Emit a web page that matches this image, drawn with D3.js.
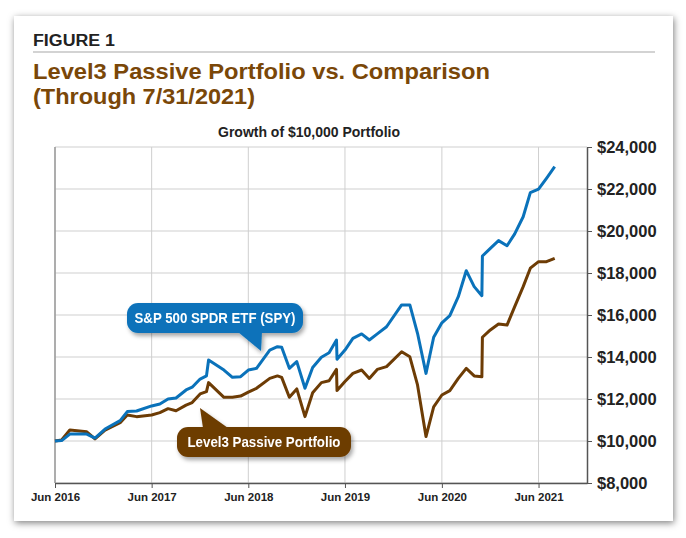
<!DOCTYPE html>
<html lang="en">
<head>
<meta charset="UTF-8">
<title>Figure 1 - Growth of $10,000</title>
<script src="https://d3js.org/d3.v7.min.js"></script>
<style>
    body { margin: 0; background: #fff; }
    svg { display: block; font-family: "Liberation Sans", Arial, sans-serif; }
    .grid line { stroke: #cfcfcf; stroke-width: 1px; }
    .axis text { font-weight: bold; fill: #222; }
    .axis path, .axis line { stroke: #555; }
</style>
</head>
<body>
<svg id="chart" width="686" height="538"></svg>
<script>
    // month points
    const dates = [
        "2016-06-01", "2016-06-26", "2016-07-27", "2016-09-29", "2016-10-30", "2016-12-07",
        "2017-02-02", "2017-03-01", "2017-04-05", "2017-06-01", "2017-07-02", "2017-08-02",
        "2017-09-01", "2017-10-09", "2017-11-01", "2017-12-01", "2017-12-25", "2018-01-02",
        "2018-03-01", "2018-04-02", "2018-05-03", "2018-06-01", "2018-07-02", "2018-08-21",
        "2018-09-19", "2018-10-05", "2018-11-03", "2018-12-01", "2019-01-01", "2019-01-30",
        "2019-03-04", "2019-04-02", "2019-04-30", "2019-05-02", "2019-06-01", "2019-07-01",
        "2019-08-03", "2019-09-01", "2019-10-01", "2019-11-05", "2020-01-01", "2020-02-01",
        "2020-03-01", "2020-04-02", "2020-05-01", "2020-06-01", "2020-07-01", "2020-08-02",
        "2020-09-01", "2020-10-01", "2020-10-30", "2020-11-01", "2020-12-01", "2021-01-01",
        "2021-02-02", "2021-03-03", "2021-04-04", "2021-05-01", "2021-06-01", "2021-07-01",
        "2021-08-01"
    ];

    const spy = [
        10000, 10020, 10330, 10330, 10140, 10570,
        10970, 11400, 11430, 11670, 11760, 12000,
        12050, 12430, 12560, 12950, 13100, 13860,
        13380, 13030, 13060, 13380, 13460, 14330,
        14490, 14460, 13460, 13780, 12510, 13500,
        13990, 14200, 14810, 13890, 14330, 14890,
        15100, 14810, 15100, 15440, 16480, 16480,
        15130, 13220, 14940, 15630, 15970, 16870,
        18110, 17350, 16920, 18810, 19170, 19540,
        19300, 19860, 20680, 21830, 21990, 22510,
        23060
    ];

    const level3 = [
        10000, 10050, 10520, 10440, 10100, 10520,
        10870, 11240, 11160, 11240, 11350, 11540,
        11440, 11710, 11830, 12240, 12350, 12780,
        12080, 12080, 12140, 12330, 12510, 12980,
        13100, 13030, 12080, 12480, 11160, 12300,
        12780, 12870, 13410, 12400, 12830, 13220,
        13380, 12980, 13410, 13540, 14250, 14010,
        12670, 10210, 11630, 12190, 12400, 12980,
        13460, 13100, 13060, 14940, 15290, 15570,
        15520, 16400, 17350, 18230, 18540, 18540,
        18700
    ];

    const yTicks = [8000, 10000, 12000, 14000, 16000, 18000, 20000, 22000, 24000];
    const xTicks = ["2016-06-01", "2017-06-01", "2018-06-01", "2019-06-01", "2020-06-01", "2021-06-01"];

    const blue = "#0a72ba";
    const brown = "#6d3c05";

    const parseDate = d3.timeParse("%Y-%m-%d");
    const svg = d3.select("#chart");

    // shadows
    const defs = svg.append("defs");
    defs.append("filter").attr("id", "cardShadow")
        .attr("x", "-5%").attr("y", "-5%").attr("width", "110%").attr("height", "110%")
        .append("feDropShadow")
        .attr("dx", 1).attr("dy", 2).attr("stdDeviation", 3.5)
        .attr("flood-color", "#000").attr("flood-opacity", 0.5);
    defs.append("filter").attr("id", "tagShadow")
        .attr("x", "-10%").attr("y", "-30%").attr("width", "125%").attr("height", "170%")
        .append("feDropShadow")
        .attr("dx", 2).attr("dy", 3).attr("stdDeviation", 2)
        .attr("flood-color", "#000").attr("flood-opacity", 0.35);

    // card
    svg.append("rect")
        .attr("x", 14).attr("y", 16).attr("width", 659).attr("height", 505)
        .attr("fill", "#fff")
        .attr("filter", "url(#cardShadow)");

    // header
    svg.append("text")
        .attr("x", 33).attr("y", 46)
        .attr("font-size", 16).attr("font-weight", "bold").attr("fill", "#222")
        .attr("textLength", 82).attr("lengthAdjust", "spacingAndGlyphs")
        .text("FIGURE 1");
    svg.append("line")
        .attr("x1", 33).attr("x2", 655).attr("y1", 52).attr("y2", 52)
        .attr("stroke", "#c4c4c4").attr("stroke-width", 1.5);

    svg.append("text")
        .attr("x", 33).attr("y", 79)
        .attr("font-size", 22).attr("font-weight", "bold").attr("fill", "#7a4708")
        .attr("textLength", 457).attr("lengthAdjust", "spacingAndGlyphs")
        .text("Level3 Passive Portfolio vs. Comparison");
    svg.append("text")
        .attr("x", 33).attr("y", 104)
        .attr("font-size", 22).attr("font-weight", "bold").attr("fill", "#7a4708")
        .attr("textLength", 222).attr("lengthAdjust", "spacingAndGlyphs")
        .text("(Through 7/31/2021)");

    svg.append("text")
        .attr("x", 309).attr("y", 137)
        .attr("text-anchor", "middle")
        .attr("font-size", 15).attr("font-weight", "bold").attr("fill", "#222")
        .attr("textLength", 182).attr("lengthAdjust", "spacingAndGlyphs")
        .text("Growth of $10,000 Portfolio");

    // plot area
    const plotL = 55, plotR = 587, plotT = 147, plotB = 483;

    const x = d3.scaleTime()
        .domain([parseDate("2016-06-01"), parseDate("2021-12-01")])
        .range([plotL, plotR]);
    const y = d3.scaleLinear()
        .domain([8000, 24000])
        .range([plotB, plotT]);

    const xTickDates = xTicks.map(parseDate);

    // grid
    const grid = svg.append("g").attr("class", "grid");
    grid.selectAll(".h").data(yTicks).enter().append("line")
        .attr("x1", plotL).attr("x2", plotR)
        .attr("y1", d => y(d)).attr("y2", d => y(d));
    grid.selectAll(".v").data(xTickDates).enter().append("line")
        .attr("x1", d => x(d)).attr("x2", d => x(d))
        .attr("y1", plotT).attr("y2", plotB);
    svg.append("line")
        .attr("x1", plotL).attr("x2", plotL).attr("y1", plotT).attr("y2", plotB)
        .attr("stroke", "#9a9a9a").attr("stroke-width", 1.5);

    // axes
    const xAxis = svg.append("g").attr("class", "axis")
        .attr("transform", `translate(0,${plotB})`)
        .call(d3.axisBottom(x).tickValues(xTickDates)
            .tickFormat(d3.timeFormat("%b %Y")).tickSize(5).tickPadding(5).tickSizeOuter(0));
    xAxis.selectAll("text").attr("font-size", 11.5);
    xAxis.select(".domain").attr("stroke-width", 1.5);

    const yAxis = svg.append("g").attr("class", "axis")
        .attr("transform", `translate(${plotR},0)`)
        .call(d3.axisRight(y).tickValues(yTicks)
            .tickFormat(d => "$" + d3.format(",")(d)).tickSize(5).tickPadding(5).tickSizeOuter(0));
    yAxis.selectAll("text").attr("font-size", 16.5);
    yAxis.select(".domain").attr("stroke-width", 1.5);

    // lines
    const pts = s => dates.map((d, i) => ({ date: parseDate(d), value: s[i] }));
    const line = d3.line().x(d => x(d.date)).y(d => y(d.value));

    svg.append("path").datum(pts(level3))
        .attr("d", line).attr("fill", "none")
        .attr("stroke", brown).attr("stroke-width", 3).attr("stroke-linejoin", "round");
    svg.append("path").datum(pts(spy))
        .attr("d", line).attr("fill", "none")
        .attr("stroke", blue).attr("stroke-width", 3).attr("stroke-linejoin", "round");

    // callout tags
    function tag(opts) {
        const g = svg.append("g").attr("filter", "url(#tagShadow)");
        g.append("rect")
            .attr("x", opts.x).attr("y", opts.y).attr("width", opts.w).attr("height", opts.h)
            .attr("rx", 11).attr("fill", opts.color);
        g.append("path").attr("d", d3.line()(opts.pointer)).attr("fill", opts.color);
        g.append("text")
            .attr("x", opts.x + opts.w / 2).attr("y", opts.y + opts.h / 2 + 5)
            .attr("text-anchor", "middle")
            .attr("font-size", 14).attr("font-weight", "bold").attr("fill", "#fff")
            .attr("textLength", opts.tw).attr("lengthAdjust", "spacingAndGlyphs")
            .text(opts.label);
    }

    tag({
        x: 127, y: 303, w: 176, h: 30, color: blue, tw: 161,
        label: "S&P 500 SPDR ETF (SPY)",
        pointer: [[238, 332], [262, 332], [261, 351]]
    });
    tag({
        x: 177, y: 427, w: 174, h: 30, color: brown, tw: 153,
        label: "Level3 Passive Portfolio",
        pointer: [[200, 408], [203, 428], [228, 428]]
    });
</script>
</body>
</html>
